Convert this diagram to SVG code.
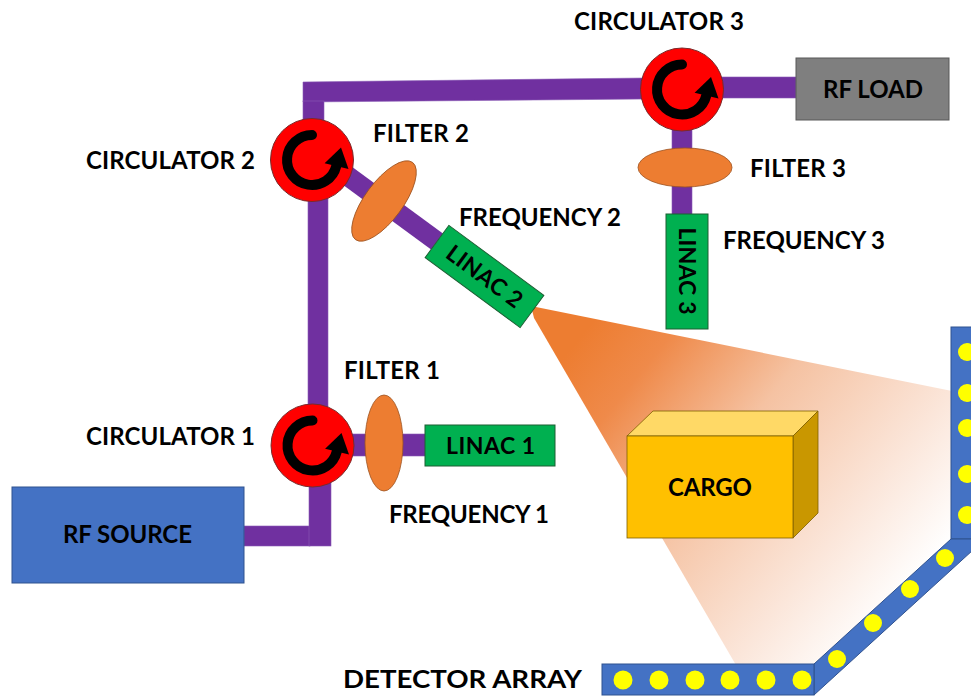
<svg xmlns="http://www.w3.org/2000/svg" width="971" height="696" viewBox="0 0 971 696">
  <defs>
    <style>
      .lbl { font-family: Lato, "Liberation Sans", "DejaVu Sans", sans-serif; font-weight: bold; font-size: 24px; fill: #000; }
      .sm { font-size: 23px; }
      .wg { fill: #7030A0; stroke: #8a5bb5; stroke-width: 0.6; }
      .circ { fill: #FF0000; stroke: #7a2a2a; stroke-width: 1; }
      .filter { fill: #ED7D31; stroke: #9c5220; stroke-width: 0.8; }
      .linac { fill: #00B050; stroke: #1d5e33; stroke-width: 1; }
      .det { fill: #4472C4; stroke: #2F528F; stroke-width: 1; }
      .dot { fill: #FFFF00; }
    </style>
    <!-- circulator symbol: red disc with a curved arrow turning anticlockwise -->
    <g id="circulator">
      <circle class="circ" r="41.5"/>
      <path d="M 0,-25 A 25 25 0 1 0 24.3,6" fill="none" stroke="#000" stroke-width="10" stroke-linecap="round"/>
      <polygon points="12.6,3.2 36.5,9 29,-12.5" fill="#000"/>
    </g>
    <linearGradient id="beamGrad" gradientUnits="userSpaceOnUse" x1="570" y1="350" x2="930" y2="640">
      <stop offset="0" stop-color="#ED7D31"/>
      <stop offset="0.15" stop-color="#EF8A4A"/>
      <stop offset="0.4" stop-color="#F5C2A2"/>
      <stop offset="0.7" stop-color="#FBE6DA"/>
      <stop offset="0.9" stop-color="#FFFFFF"/>
    </linearGradient>
  </defs>

  <rect width="971" height="696" fill="#FFFFFF"/>

  <!-- X-ray fan beam from LINAC 2 -->
  <g id="beam">
    <polygon points="531,306 952,391 952,545 820,668 740,672 534,318" fill="url(#beamGrad)"/>
  </g>

  <!-- waveguides -->
  <g id="connectors">
    <polygon class="wg" points="303,82 645,78 645,99 303,102"/>
    <rect class="wg" x="303" y="101" width="21" height="25"/>
    <rect class="wg" x="680" y="77" width="116" height="21"/>
    <rect class="wg" x="308" y="195" width="20" height="215"/>
    <rect class="wg" x="244" y="526" width="66" height="20"/>
    <rect class="wg" x="309" y="480" width="22" height="66"/>
    <rect class="wg" x="350" y="434" width="76" height="22"/>
    <rect class="wg" x="672" y="125" width="20" height="90"/>
    <line x1="300" y1="141" x2="437" y2="241.5" stroke="#7030A0" stroke-width="20"/>
  </g>

  <g id="rf-source">
    <rect x="12" y="487" width="232" height="96" fill="#4472C4" stroke="#2F528F" stroke-width="1"/>
    <text class="lbl" x="127.5" y="543" text-anchor="middle" textLength="129">RF SOURCE</text>
  </g>

  <g id="rf-load">
    <rect x="796" y="58" width="153" height="62" fill="#7F7F7F" stroke="#595959" stroke-width="1"/>
    <text class="lbl" x="873" y="98" text-anchor="middle" textLength="100">RF LOAD</text>
  </g>

  <g id="circulator-1">
    <use href="#circulator" x="312.5" y="445.5"/>
    <text class="lbl" x="170.5" y="445" text-anchor="middle" textLength="169">CIRCULATOR 1</text>
  </g>

  <g id="circulator-2">
    <use href="#circulator" x="312" y="160"/>
    <text class="lbl" x="170.5" y="169" text-anchor="middle" textLength="169">CIRCULATOR 2</text>
  </g>

  <g id="circulator-3">
    <use href="#circulator" x="682" y="89.5"/>
    <text class="lbl" x="659" y="30" text-anchor="middle" textLength="170">CIRCULATOR 3</text>
  </g>

  <g id="filter-1">
    <ellipse class="filter" cx="384" cy="443" rx="19" ry="48"/>
    <text class="lbl" x="392" y="379" text-anchor="middle" textLength="96">FILTER 1</text>
  </g>

  <g id="filter-2">
    <ellipse class="filter" cx="384" cy="201" rx="19" ry="48" transform="rotate(36.4 384 201)"/>
    <text class="lbl" x="421" y="142" text-anchor="middle" textLength="96">FILTER 2</text>
  </g>

  <g id="filter-3">
    <ellipse class="filter" cx="685" cy="167.5" rx="47" ry="19.5"/>
    <text class="lbl" x="798" y="177" text-anchor="middle" textLength="96">FILTER 3</text>
  </g>

  <g id="linac-1">
    <rect class="linac" x="425" y="425" width="130" height="41"/>
    <text class="lbl sm" x="490.5" y="454" text-anchor="middle" textLength="89">LINAC 1</text>
    <text class="lbl" x="469" y="523" text-anchor="middle" textLength="160">FREQUENCY 1</text>
  </g>

  <g id="linac-2">
    <g transform="translate(484.5 276.5) rotate(36.4)">
      <rect class="linac" x="-59" y="-20" width="118" height="40"/>
      <text class="lbl sm" x="0" y="8" text-anchor="middle" textLength="88">LINAC 2</text>
    </g>
    <text class="lbl" x="540" y="226" text-anchor="middle" textLength="162">FREQUENCY 2</text>
  </g>

  <g id="linac-3">
    <rect class="linac" x="666" y="214" width="42" height="115"/>
    <text class="lbl sm" transform="translate(687 271) rotate(90)" x="0" y="8" text-anchor="middle" textLength="87">LINAC 3</text>
    <text class="lbl" x="804" y="249" text-anchor="middle" textLength="162">FREQUENCY 3</text>
  </g>

  <g id="cargo">
    <polygon points="627,436 653,411 818,411 793,436" fill="#FFD966" stroke="#7F6000" stroke-width="0.8"/>
    <polygon points="793,436 818,411 818,513 793,538" fill="#C99700" stroke="#7F6000" stroke-width="0.8"/>
    <rect x="627" y="436" width="166" height="102" fill="#FFC000" stroke="#7F6000" stroke-width="0.8"/>
    <text class="lbl" x="710" y="496" text-anchor="middle" textLength="84">CARGO</text>
  </g>

  <g id="detector-array">
    <rect class="det" x="951" y="327" width="22" height="212"/>
    <polygon class="det" points="814,664 951,539 973,539 973,550 814,695"/>
    <rect class="det" x="602" y="664" width="212" height="31"/>
    <circle class="dot" cx="967" cy="352" r="9"/>
    <circle class="dot" cx="967" cy="393" r="9"/>
    <circle class="dot" cx="967" cy="428" r="9"/>
    <circle class="dot" cx="967" cy="474" r="9"/>
    <circle class="dot" cx="967" cy="515" r="9"/>
    <circle class="dot" cx="945" cy="558" r="9"/>
    <circle class="dot" cx="910" cy="589" r="9"/>
    <circle class="dot" cx="873" cy="623" r="9"/>
    <circle class="dot" cx="837" cy="659" r="9"/>
    <circle class="dot" cx="623" cy="680" r="9.5"/>
    <circle class="dot" cx="659" cy="680" r="9.5"/>
    <circle class="dot" cx="695" cy="680" r="9.5"/>
    <circle class="dot" cx="730" cy="680" r="9.5"/>
    <circle class="dot" cx="766" cy="680" r="9.5"/>
    <circle class="dot" cx="802" cy="680" r="9.5"/>
    <text class="lbl" x="462.5" y="688" text-anchor="middle" textLength="239" lengthAdjust="spacingAndGlyphs">DETECTOR ARRAY</text>
  </g>
</svg>
